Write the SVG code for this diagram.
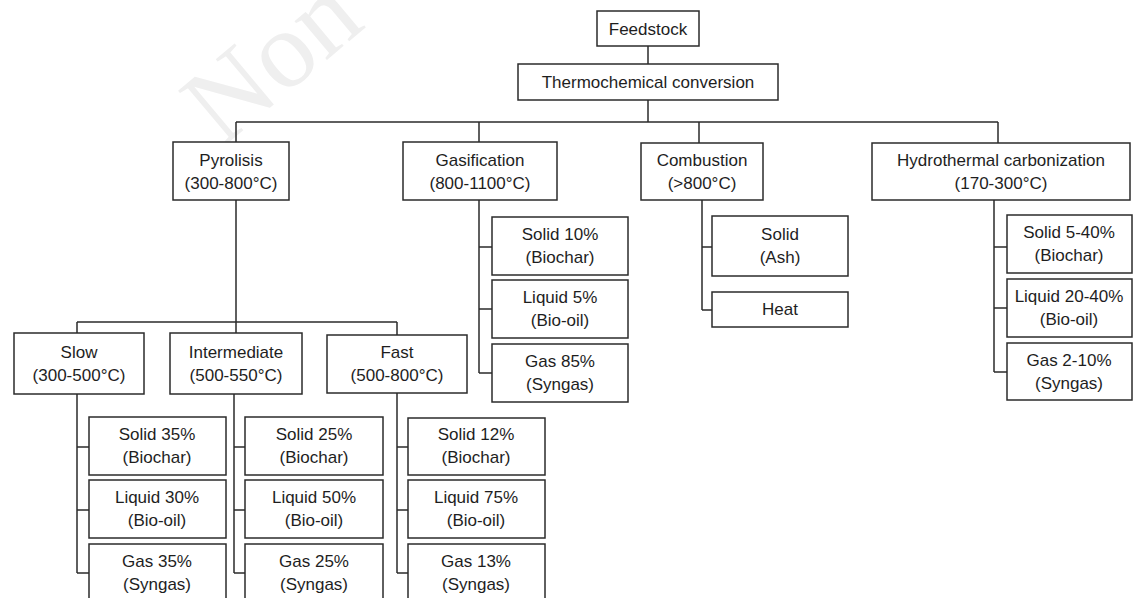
<svg xmlns="http://www.w3.org/2000/svg" width="1134" height="598" viewBox="0 0 1134 598">
<style>
.b{fill:#ffffff;stroke:#2b2b2b;stroke-width:1.5}
.c{fill:none;stroke:#2b2b2b;stroke-width:1.5}
text{font-family:"Liberation Sans",Arial,sans-serif;font-size:17px;fill:#1e1e1e;text-anchor:middle}
.wm{font-family:"Liberation Serif",serif;font-size:110px;fill:#efefef;text-anchor:start}
</style>
<rect width="1134" height="598" fill="#ffffff"/>
<text class="wm" transform="translate(222,148) rotate(-40)">Non c</text>
<g id="connectors" class="c">
<path d="M648 46V64M648 100V122M236 122H998M236 122V142M479 122V142M699 122V143M998 122V143"/>
<path d="M236 200V322M77 322H397M77 322V333M236 322V333M397 322V335"/>
<path d="M77 394V573M77 447H89M77 510H89M77 573H89"/>
<path d="M234 394V573M234 447H245M234 510H245M234 573H245"/>
<path d="M397 393V573M397 447H408M397 510H408M397 573H408"/>
<path d="M479 200V373M479 247H492M479 309H492M479 373H492"/>
<path d="M702 200V310M702 247H712M702 310H712"/>
<path d="M994 200V372M994 247H1007M994 308H1007M994 372H1007"/>
</g>
<g id="feedstock"><rect class="b" x="597" y="11" width="102" height="35"/><text x="648" y="35">Feedstock</text></g>
<g id="thermochemical"><rect class="b" x="518" y="64" width="260" height="36"/><text x="648" y="88">Thermochemical conversion</text></g>
<g id="pyrolisis"><rect class="b" x="173" y="142" width="116" height="58"/><text x="231" y="166">Pyrolisis</text><text x="231" y="189">(300-800°C)</text></g>
<g id="gasification"><rect class="b" x="403" y="142" width="154" height="58"/><text x="480" y="166">Gasification</text><text x="480" y="189">(800-1100°C)</text></g>
<g id="combustion"><rect class="b" x="641" y="143" width="122" height="57"/><text x="702" y="166">Combustion</text><text x="702" y="189">(&gt;800°C)</text></g>
<g id="hydrothermal"><rect class="b" x="872" y="143" width="258" height="57"/><text x="1001" y="166">Hydrothermal carbonization</text><text x="1001" y="189">(170-300°C)</text></g>
<g id="gas-solid"><rect class="b" x="492" y="217" width="136" height="58"/><text x="560" y="240">Solid 10%</text><text x="560" y="263">(Biochar)</text></g>
<g id="gas-liquid"><rect class="b" x="492" y="280" width="136" height="58"/><text x="560" y="303">Liquid 5%</text><text x="560" y="326">(Bio-oil)</text></g>
<g id="gas-gas"><rect class="b" x="492" y="344" width="136" height="58"/><text x="560" y="367">Gas 85%</text><text x="560" y="390">(Syngas)</text></g>
<g id="comb-solid"><rect class="b" x="712" y="216" width="136" height="60"/><text x="780" y="240">Solid</text><text x="780" y="263">(Ash)</text></g>
<g id="comb-heat"><rect class="b" x="712" y="292" width="136" height="35"/><text x="780" y="315">Heat</text></g>
<g id="htc-solid"><rect class="b" x="1007" y="215" width="125" height="58"/><text x="1069" y="238">Solid 5-40%</text><text x="1069" y="261">(Biochar)</text></g>
<g id="htc-liquid"><rect class="b" x="1007" y="279" width="125" height="58"/><text x="1069" y="302">Liquid 20-40%</text><text x="1069" y="325">(Bio-oil)</text></g>
<g id="htc-gas"><rect class="b" x="1007" y="343" width="125" height="57"/><text x="1069" y="366">Gas 2-10%</text><text x="1069" y="389">(Syngas)</text></g>
<g id="slow"><rect class="b" x="14" y="333" width="130" height="61"/><text x="79" y="358">Slow</text><text x="79" y="381">(300-500°C)</text></g>
<g id="intermediate"><rect class="b" x="170" y="333" width="132" height="61"/><text x="236" y="358">Intermediate</text><text x="236" y="381">(500-550°C)</text></g>
<g id="fast"><rect class="b" x="327" y="335" width="140" height="58"/><text x="397" y="358">Fast</text><text x="397" y="381">(500-800°C)</text></g>
<g id="slow-solid"><rect class="b" x="89" y="417" width="137" height="58"/><text x="157" y="440">Solid 35%</text><text x="157" y="463">(Biochar)</text></g>
<g id="slow-liquid"><rect class="b" x="89" y="480" width="137" height="58"/><text x="157" y="503">Liquid 30%</text><text x="157" y="526">(Bio-oil)</text></g>
<g id="slow-gas"><rect class="b" x="89" y="544" width="137" height="60"/><text x="157" y="567">Gas 35%</text><text x="157" y="590">(Syngas)</text></g>
<g id="int-solid"><rect class="b" x="245" y="417" width="138" height="58"/><text x="314" y="440">Solid 25%</text><text x="314" y="463">(Biochar)</text></g>
<g id="int-liquid"><rect class="b" x="245" y="480" width="138" height="58"/><text x="314" y="503">Liquid 50%</text><text x="314" y="526">(Bio-oil)</text></g>
<g id="int-gas"><rect class="b" x="245" y="544" width="138" height="60"/><text x="314" y="567">Gas 25%</text><text x="314" y="590">(Syngas)</text></g>
<g id="fast-solid"><rect class="b" x="408" y="418" width="137" height="57"/><text x="476" y="440">Solid 12%</text><text x="476" y="463">(Biochar)</text></g>
<g id="fast-liquid"><rect class="b" x="408" y="480" width="137" height="58"/><text x="476" y="503">Liquid 75%</text><text x="476" y="526">(Bio-oil)</text></g>
<g id="fast-gas"><rect class="b" x="408" y="544" width="137" height="60"/><text x="476" y="567">Gas 13%</text><text x="476" y="590">(Syngas)</text></g>
</svg>
